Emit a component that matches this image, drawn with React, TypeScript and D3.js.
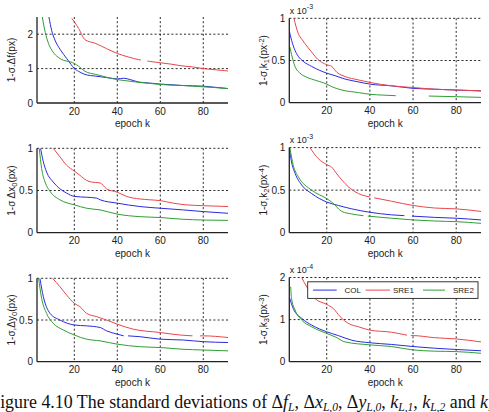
import React from "react";
import * as d3 from "d3";

type Pt = [number, number | null];

// epoch range shared by all panels
const epochDomain: [number, number] = [2.65, 91.5];
const epochTicks = [20, 40, 60, 80];
const seriesNames = ["COL", "SRE1", "SRE2"];
const seriesColors = ["#2b2bdc", "#e8474a", "#2f9e35"];

// Δf
const dfCOL: Pt[] = [[8.2,2.5],[9.5,2.1],[11,1.83],[13.5,1.55],[16.5,1.29],[18.5,1.12],[20,1.0],[22,0.92],[25,0.83],[30,0.78],[35,0.74],[40,0.70],[43,0.72],[46,0.68],[50,0.61],[55,0.58],[60,0.55],[65,0.53],[70,0.51],[75,0.50],[80,0.49],[85,0.46],[91.5,0.42]];
const dfSRE1: Pt[] = [[18.8,2.46],[20,2.36],[22,2.17],[25,1.84],[30,1.73],[35,1.58],[40,1.44],[45,1.34],[50,1.26],[51,1.25],[52,null],[54,1.22],[55,1.21],[60,1.17],[65,1.13],[70,1.08],[75,1.05],[80,1.0],[85,0.97],[91.5,0.93]];
const dfSRE2: Pt[] = [[5.1,2.5],[6.5,2.05],[8,1.73],[10,1.49],[12.5,1.33],[15,1.24],[18,1.2],[20,1.15],[22,1.07],[25,0.92],[30,0.83],[35,0.75],[40,0.68],[45,0.64],[50,0.60],[55,0.57],[60,0.54],[65,0.52],[70,0.51],[75,0.49],[80,0.47],[85,0.45],[91.5,0.42]];

// k1 (x 10^-3)
const k1COL: Pt[] = [[2.65,0.85],[3.7,0.74],[5.3,0.62],[6.8,0.55],[9.1,0.49],[13,0.43],[20,0.35],[23.9,0.32],[28.5,0.28],[34,0.25],[40,0.22],[50,0.20],[60,0.17],[70,0.16],[80,0.15],[91.5,0.14]];
const k1SRE1: Pt[] = [[4.8,1.0],[5.8,0.9],[6.8,0.82],[8.5,0.75],[9.9,0.70],[13,0.60],[16,0.51],[20,0.45],[22.3,0.43],[24.7,0.36],[28.5,0.31],[34.7,0.27],[40,0.24],[50,0.20],[60,0.18],[70,0.16],[80,0.15],[91.5,0.14]];
const k1SRE2: Pt[] = [[2.9,0.66],[3.7,0.57],[5.3,0.43],[7.6,0.35],[10,0.31],[13,0.28],[20,0.22],[22.3,0.19],[27,0.15],[34.7,0.12],[40,0.10],[46,0.09],[52,0.083],[60,null],[67.3,0.079],[80,0.071],[91.5,0.063]];

// Δx0
const dxCOL: Pt[] = [[4.3,1.0],[5.6,0.84],[7.1,0.72],[10.2,0.60],[13.3,0.52],[16.4,0.47],[20,0.43],[25.7,0.42],[30.4,0.41],[32,0.39],[40,0.35],[50.5,0.31],[60,0.29],[70.7,0.27],[80,0.25],[91.5,0.23]];
const dxSRE1: Pt[] = [[10.2,1.0],[13.3,0.9],[16.4,0.8],[20,0.73],[22.6,0.68],[25.7,0.62],[28,0.60],[32,0.59],[35,0.52],[40,0.48],[44.3,0.43],[50.5,0.40],[55,0.39],[60,0.38],[66,0.35],[72,0.33],[80,0.32],[91.5,0.31]];
const dxSRE2: Pt[] = [[3.7,1.0],[4.8,0.76],[6.4,0.60],[8.7,0.49],[13.3,0.39],[20,0.33],[25.7,0.29],[32,0.27],[40,0.22],[50.5,0.19],[60,0.18],[70,0.16],[80,0.15],[91.5,0.146]];

// k2 (x 10^-3)
const k2COL: Pt[] = [[2.65,1.0],[3.7,0.83],[5.3,0.70],[8.4,0.56],[13,0.46],[20,0.36],[25.4,0.32],[31.6,0.28],[40,0.24],[50,0.21],[56,0.20],[57.5,null],[59.5,0.195],[70,0.18],[80,0.17],[91.5,0.15]];
const k2SRE1: Pt[] = [[12.2,1.0],[16.1,0.87],[20,0.80],[22.3,0.77],[24.7,0.69],[27,0.62],[30,0.54],[34.7,0.46],[40,0.42],[41,null],[42,0.41],[50,0.37],[60,0.32],[70,0.29],[80,0.28],[91.5,0.25]];
const k2SRE2: Pt[] = [[2.9,1.0],[4.5,0.79],[6.8,0.66],[13,0.50],[20,0.40],[22.3,0.36],[27,0.25],[31.6,0.22],[37,0.20],[38,null],[39,0.195],[50,0.17],[60,0.15],[70,0.137],[80,0.13],[91.5,0.11]];

// Δy0
const dyCOL: Pt[] = [[4,1.0],[5.6,0.78],[8.7,0.58],[13.3,0.50],[20,0.44],[25.7,0.43],[32,0.41],[35,0.37],[40,0.33],[43,0.31],[44,null],[45,0.31],[50.5,0.30],[60,0.27],[70.7,0.26],[80,0.24],[91.5,0.23]];
const dySRE1: Pt[] = [[9.9,1.0],[13.3,0.9],[16.4,0.8],[20,0.70],[22.6,0.66],[25.7,0.58],[30.4,0.54],[35,0.50],[40,0.45],[47.4,0.39],[60,0.35],[69,0.32],[75,0.31],[77,null],[78.5,0.31],[80,0.31],[91.5,0.29]];
const dySRE2: Pt[] = [[3.4,1.0],[4.8,0.76],[7.1,0.58],[10.2,0.46],[14.9,0.38],[20,0.32],[25.7,0.27],[32,0.25],[40,0.21],[50.5,0.18],[60,0.17],[70,0.15],[80,0.14],[91.5,0.13]];

// k3 (x 10^-4)
const k3COL: Pt[] = [[2.65,1.54],[4.5,1.26],[8.4,1.03],[13,0.87],[20,0.71],[25.4,0.62],[31.6,0.51],[40,0.45],[50,0.41],[60,0.36],[70,0.32],[80,0.29],[91.5,0.26]];
const k3SRE1: Pt[] = [[8.4,2.0],[10.7,1.78],[14.6,1.5],[20,1.36],[23.1,1.26],[26.2,1.07],[30,0.91],[34.7,0.83],[40,0.75],[50,0.70],[57.2,0.63],[58,null],[59,0.62],[60,0.62],[70,0.57],[80,0.54],[91.5,0.47]];
const k3SRE2: Pt[] = [[3.3,1.78],[3.7,1.5],[5.3,1.23],[8.4,0.99],[13,0.83],[20,0.67],[23.9,0.59],[28.5,0.47],[40,0.40],[50,0.36],[60,0.28],[70,0.25],[80,0.24],[91.5,0.20]];

const yTicksDf = [0, 1, 2];
const yTicksUnit = [0, 0.5, 1];
const yTicksK3 = [0, 1, 2];

const FONT = "'Liberation Sans', Arial, sans-serif";
const INK = "#222";

type LabelPart = { t: string; shift?: "sub" | "super" };

interface PanelSpec {
  left: number;
  right: number;
  top: number;
  bottom: number;
  yMax: number;
  yTicks: number[];
  series: Pt[][];
  label: LabelPart[];
  exponent?: string;
  legend?: boolean;
}

const panels: PanelSpec[] = [
  { left: 37, right: 228, top: 17, bottom: 103, yMax: 2.5, yTicks: yTicksDf, series: [dfCOL, dfSRE1, dfSRE2],
    label: [{ t: "1-σ.Δf(px)" }] },
  { left: 289.3, right: 481, top: 18.3, bottom: 102.7, yMax: 1, yTicks: yTicksUnit, series: [k1COL, k1SRE1, k1SRE2],
    label: [{ t: "1-σ,k" }, { t: "1", shift: "sub" }, { t: "(px" }, { t: "-2", shift: "super" }, { t: ")" }], exponent: "-3" },
  { left: 37, right: 228, top: 148.3, bottom: 232.7, yMax: 1, yTicks: yTicksUnit, series: [dxCOL, dxSRE1, dxSRE2],
    label: [{ t: "1-σ Δx" }, { t: "0", shift: "sub" }, { t: "(px)" }] },
  { left: 289.3, right: 481, top: 147.6, bottom: 232.7, yMax: 1, yTicks: yTicksUnit, series: [k2COL, k2SRE1, k2SRE2],
    label: [{ t: "1-σ,k" }, { t: "2", shift: "sub" }, { t: "(px" }, { t: "-4", shift: "super" }, { t: ")" }], exponent: "-3" },
  { left: 37, right: 228, top: 278.3, bottom: 361.7, yMax: 1, yTicks: yTicksUnit, series: [dyCOL, dySRE1, dySRE2],
    label: [{ t: "1-σ,Δy" }, { t: "0", shift: "sub" }, { t: "(px)" }] },
  { left: 289.3, right: 481, top: 277.5, bottom: 361.7, yMax: 2, yTicks: yTicksK3, series: [k3COL, k3SRE1, k3SRE2],
    label: [{ t: "1-σ,k" }, { t: "3", shift: "sub" }, { t: "(px" }, { t: "-3", shift: "super" }, { t: ")" }], exponent: "-4", legend: true },
];

function Panel({ spec, idx }: { spec: PanelSpec; idx: number }) {
  const x = d3.scaleLinear().domain(epochDomain).range([spec.left, spec.right]);
  const y = d3.scaleLinear().domain([0, spec.yMax]).range([spec.bottom, spec.top]);
  const line = d3
    .line<Pt>()
    .defined((d) => d[1] !== null)
    .x((d) => x(d[0]))
    .y((d) => y(d[1] as number))
    .curve(d3.curveMonotoneX);
  const clipId = `clip-${idx}`;
  const midY = (spec.top + spec.bottom) / 2;
  const labelX = spec.left - 22;
  const fmt = (v: number) => (v === 0.5 ? "0.5" : String(v));

  // legend layout
  const lgTop = spec.top + 4.3;
  const lgBottom = lgTop + 16.6;
  const lgLeft = 307.7;
  const lgRight = 478;
  const lgMid = (lgTop + lgBottom) / 2;
  const legendItems = [
    { x0: 313, x1: 336.7, tx: 344.5 },
    { x0: 365.7, x1: 390, tx: 393 },
    { x0: 423, x1: 445, tx: 453 },
  ];

  return (
    <g>
      <defs>
        <clipPath id={clipId}>
          <rect x={spec.left} y={spec.top} width={spec.right - spec.left} height={spec.bottom - spec.top} />
        </clipPath>
      </defs>
      {/* dotted grid */}
      {epochTicks.map((t) => (
        <line key={`gx${t}`} x1={x(t)} x2={x(t)} y1={spec.top} y2={spec.bottom}
          stroke="#111" strokeWidth={0.9} strokeDasharray="2,2.2" />
      ))}
      {spec.yTicks.filter((t) => t > 0).map((t) => (
        <line key={`gy${t}`} x1={spec.left} x2={spec.right} y1={y(t)} y2={y(t)}
          stroke="#111" strokeWidth={0.9} strokeDasharray="2,2.2" />
      ))}
      {/* data */}
      <g clipPath={`url(#${clipId})`}>
        {spec.series.map((s, i) => (
          <path key={i} d={line(s) || ""} fill="none" stroke={seriesColors[i]} strokeWidth={1} strokeLinejoin="round" />
        ))}
      </g>
      {/* axes */}
      <line x1={spec.left} x2={spec.left} y1={spec.top} y2={spec.bottom} stroke={INK} strokeWidth={1.3} />
      <line x1={spec.left} x2={spec.right} y1={spec.bottom} y2={spec.bottom} stroke={INK} strokeWidth={1.3} />
      {epochTicks.map((t) => (
        <text key={`tx${t}`} x={x(t)} y={spec.bottom + 11.5} fontSize={10} fontFamily={FONT}
          fill={INK} textAnchor="middle">{t}</text>
      ))}
      {spec.yTicks.map((t) => (
        <text key={`ty${t}`} x={spec.left - 4} y={y(t) + 3.6} fontSize={10} fontFamily={FONT}
          fill={INK} textAnchor="end">{fmt(t)}</text>
      ))}
      <text x={(spec.left + spec.right) / 2} y={spec.bottom + 24} fontSize={10} fontFamily={FONT}
        fill={INK} textAnchor="middle">epoch k</text>
      <text transform={`translate(${labelX},${midY}) rotate(-90)`} fontSize={10} fontFamily={FONT}
        fill={INK} textAnchor="middle">
        {spec.label.map((p, i) => (
          <tspan key={i}
            fontSize={p.shift ? 7.5 : 10}
            baselineShift={p.shift === "sub" ? "-25%" : p.shift === "super" ? "40%" : undefined}>
            {p.t}
          </tspan>
        ))}
      </text>
      {spec.exponent && (
        <text x={spec.left + 0.5} y={spec.top - 4.5} fontSize={9} fontFamily={FONT} fill={INK}>
          x 10
          <tspan fontSize={7} dy={-4.5}>{spec.exponent}</tspan>
        </text>
      )}
      {spec.legend && (
        <g>
          <rect x={lgLeft} y={lgTop} width={lgRight - lgLeft} height={lgBottom - lgTop}
            fill="#fff" stroke={INK} strokeWidth={0.9} />
          {legendItems.map((it, i) => (
            <g key={i}>
              <line x1={it.x0} x2={it.x1} y1={lgMid} y2={lgMid} stroke={seriesColors[i]} strokeWidth={1} />
              <text x={it.tx} y={lgMid + 3} fontSize={8} fontFamily={FONT} fill={INK}>{seriesNames[i]}</text>
            </g>
          ))}
        </g>
      )}
    </g>
  );
}

export default function App() {
  return (
    <svg width={489} height={412} viewBox="0 0 489 412"
      style={{ position: "absolute", left: 0, top: 0, background: "#fff" }}>
      <rect x={0} y={0} width={489} height={412} fill="#fff" />
      {panels.map((p, i) => (
        <Panel key={i} spec={p} idx={i} />
      ))}
      <text x={-9.8} y={407.5} fontSize={17.9} fontFamily="'Liberation Serif', 'Times New Roman', serif" fill="#111">
        Figure 4.10 The standard deviations of Δ
        <tspan fontStyle="italic">f</tspan>
        <tspan fontStyle="italic" fontSize={11.5} dy={3}>L</tspan>
        <tspan dy={-3}>, Δ</tspan>
        <tspan fontStyle="italic">x</tspan>
        <tspan fontStyle="italic" fontSize={11.5} dy={3}>L,0</tspan>
        <tspan dy={-3}>, Δ</tspan>
        <tspan fontStyle="italic">y</tspan>
        <tspan fontStyle="italic" fontSize={11.5} dy={3}>L,0</tspan>
        <tspan dy={-3}>, </tspan>
        <tspan fontStyle="italic">k</tspan>
        <tspan fontStyle="italic" fontSize={11.5} dy={3}>L,1</tspan>
        <tspan dy={-3}>, </tspan>
        <tspan fontStyle="italic">k</tspan>
        <tspan fontStyle="italic" fontSize={11.5} dy={3}>L,2</tspan>
        <tspan dy={-3}> and </tspan>
        <tspan fontStyle="italic">k</tspan>
        <tspan fontStyle="italic" fontSize={11.5} dy={3}>L,3</tspan>
      </text>
    </svg>
  );
}
